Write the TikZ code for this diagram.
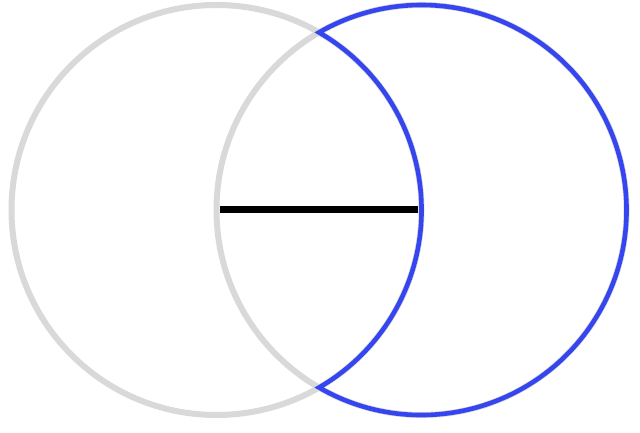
\documentclass[tikz,border=0pt]{standalone}
\usepackage{tikz}
\usepackage{xcolor}
\definecolor{circlegray}{HTML}{D9D9D9}
\definecolor{lunebblue}{HTML}{3546F0}
\begin{document}
\begin{tikzpicture}[x=0.5pt, y=0.5pt]

	\useasboundingbox (0,0) rectangle (640,432);

	% centres of the two circles
	\coordinate (centerA) at (216.5, 222);
	\coordinate (centerB) at (421.5, 222);

	% gray circles
	\draw[color=circlegray, line width=3pt] (centerA) circle (102.5pt);
	\draw[color=circlegray, line width=3pt] (centerB) circle (102.5pt);

	% blue crescent (right circle outside the left one)
	\draw[color=lunebblue, line width=2.3pt, line join=miter]
		(centerA) ++(60:102.5pt)
		arc[start angle=60, end angle=-60, radius=102.5pt]
		arc[start angle=240, end angle=480, radius=102.5pt] -- cycle;

	% segment between the centres
	\draw[line width=3.5pt, shorten <=1.75pt, shorten >=1.75pt] (centerA) -- (centerB);
\end{tikzpicture}
\end{document}
